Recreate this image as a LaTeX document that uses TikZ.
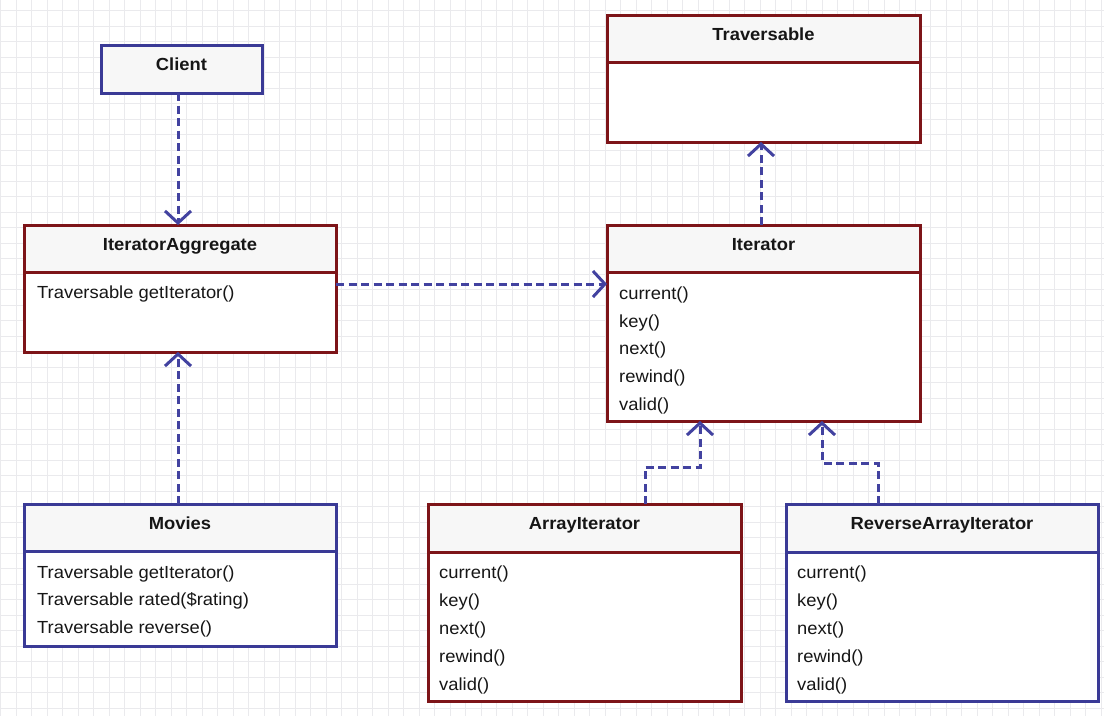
\documentclass[tikz,border=0pt]{standalone}
\usepackage{fontspec}
\setmainfont{Liberation Sans}[FakeStretch=1.05]
\usetikzlibrary{arrows.meta,calc}
\definecolor{clsred}{RGB}{125,20,24}
\definecolor{clsblue}{RGB}{58,58,150}
\definecolor{arrowc}{RGB}{66,66,160}
\definecolor{gridc}{RGB}{234,234,237}
\definecolor{hdrfill}{RGB}{247,247,247}
\definecolor{txt}{RGB}{22,22,22}
\begin{document}
\begin{tikzpicture}[x=1pt,y=-1pt,
  box/.style={rectangle, line width=3pt, outer sep=0pt, inner sep=0pt},
  hdr/.style={box, fill=hdrfill},
  bdy/.style={box, fill=white},
  ttl/.style={font=\fontsize{17.5}{20}\selectfont\bfseries, text=txt, text height=12.5pt, text depth=0pt, inner sep=0pt},
  mth/.style={font=\fontsize{17.5}{20}\selectfont, text=txt, text height=12.5pt, text depth=0pt, inner sep=0pt, anchor=west},
  gridline/.style={draw=gridc, line width=1pt},
  dep/.style={draw=arrowc, line width=3pt, dash pattern=on 8pt off 4.5pt, -{Straight Barb[length=12pt,width=26pt]}}
]
\useasboundingbox (0,0) rectangle (1104,716);
\fill[white] (0,0) rectangle (1104,716);
% background grid
\foreach \k in {0,...,71} \draw[gridline] ({0.5+15.5*\k},0) -- ({0.5+15.5*\k},716);
\foreach \k in {0,...,45} \draw[gridline] (0,{10.5+15.5*\k}) -- (1104,{10.5+15.5*\k});

% Client
\node[hdr, draw=clsblue, minimum width=161pt, minimum height=48pt] (Cl) at (181.5,69) {};
\node[ttl] (Cl-t) at ([yshift=4.5pt]Cl.center) {Client};

% Traversable
\node[bdy, draw=clsred, minimum width=313pt, minimum height=80pt] (Tr-b) at (763.5,102) {};
\node[hdr, draw=clsred, minimum width=313pt, minimum height=47pt] (Tr-h) at (763.5,38.5) {};
\node[ttl] (Tr-t) at ([yshift=4.5pt]Tr-h.center) {Traversable};

% IteratorAggregate
\node[bdy, draw=clsred, minimum width=312pt, minimum height=80pt] (IA-b) at (180,312) {};
\node[hdr, draw=clsred, minimum width=312pt, minimum height=47pt] (IA-h) at (180,248.5) {};
\node[ttl] (IA-t) at ([yshift=4.5pt]IA-h.center) {IteratorAggregate};
\node[mth] (IA-m1) at (37,292) {Traversable getIterator()};

% Iterator
\node[bdy, draw=clsred, minimum width=313pt, minimum height=149pt] (It-b) at (763.5,346.5) {};
\node[hdr, draw=clsred, minimum width=313pt, minimum height=47pt] (It-h) at (763.5,248.5) {};
\node[ttl] (It-t) at ([yshift=4.5pt]It-h.center) {Iterator};
\node[mth] (It-m1) at (619,293) {current()};
\node[mth] (It-m2) at (619,321) {key()};
\node[mth] (It-m3) at (619,348) {next()};
\node[mth] (It-m4) at (619,376) {rewind()};
\node[mth] (It-m5) at (619,404) {valid()};

% Movies
\node[bdy, draw=clsblue, minimum width=312pt, minimum height=95pt] (Mv-b) at (180,598.5) {};
\node[hdr, draw=clsblue, minimum width=312pt, minimum height=47pt] (Mv-h) at (180,527.5) {};
\node[ttl] (Mv-t) at ([yshift=4.5pt]Mv-h.center) {Movies};
\node[mth] (Mv-m1) at (37,572) {Traversable getIterator()};
\node[mth] (Mv-m2) at (37,599) {Traversable rated(\$rating)};
\node[mth] (Mv-m3) at (37,627) {Traversable reverse()};

% ArrayIterator
\node[bdy, draw=clsred, minimum width=313pt, minimum height=149pt] (AI-b) at (584.5,626.5) {};
\node[hdr, draw=clsred, minimum width=313pt, minimum height=48pt] (AI-h) at (584.5,528) {};
\node[ttl] (AI-t) at ([yshift=4.5pt]AI-h.center) {ArrayIterator};
\node[mth] (AI-m1) at (439,572) {current()};
\node[mth] (AI-m2) at (439,600) {key()};
\node[mth] (AI-m3) at (439,628) {next()};
\node[mth] (AI-m4) at (439,656) {rewind()};
\node[mth] (AI-m5) at (439,684) {valid()};

% ReverseArrayIterator
\node[bdy, draw=clsblue, minimum width=312pt, minimum height=149pt] (RA-b) at (942,626.5) {};
\node[hdr, draw=clsblue, minimum width=312pt, minimum height=48pt] (RA-h) at (942,528) {};
\node[ttl] (RA-t) at ([yshift=4.5pt]RA-h.center) {ReverseArrayIterator};
\node[mth] (RA-m1) at (797,572) {current()};
\node[mth] (RA-m2) at (797,600) {key()};
\node[mth] (RA-m3) at (797,628) {next()};
\node[mth] (RA-m4) at (797,656) {rewind()};
\node[mth] (RA-m5) at (797,684) {valid()};

% connectors
\coordinate (clOut) at ([xshift=-3.5pt]Cl.south);
\draw[dep] (clOut) -- (clOut |- IA-h.north);
\coordinate (mvOut) at ([xshift=-2pt]Mv-h.north);
\draw[dep] (mvOut) -- (mvOut |- IA-b.south);
\coordinate (iaOut) at ([yshift=28pt]IA-b.east);
\draw[dep] (iaOut) -- (iaOut -| It-b.west);
\coordinate (itOut) at ([xshift=-2.5pt]It-h.north);
\draw[dep] (itOut) -- (itOut |- Tr-b.south);
\coordinate (aiOut) at ([xshift=60.5pt]AI-h.north);
\coordinate (aiIn) at ([xshift=-63.5pt]It-b.south);
\draw[dep] (aiOut) -- ++(0,-37) -| (aiIn);
\coordinate (raOut) at ([xshift=-64pt]RA-h.north);
\coordinate (raIn) at ([xshift=58.5pt]It-b.south);
\draw[dep] (raOut) -- ++(0,-41) -| (raIn);
\end{tikzpicture}
\end{document}
